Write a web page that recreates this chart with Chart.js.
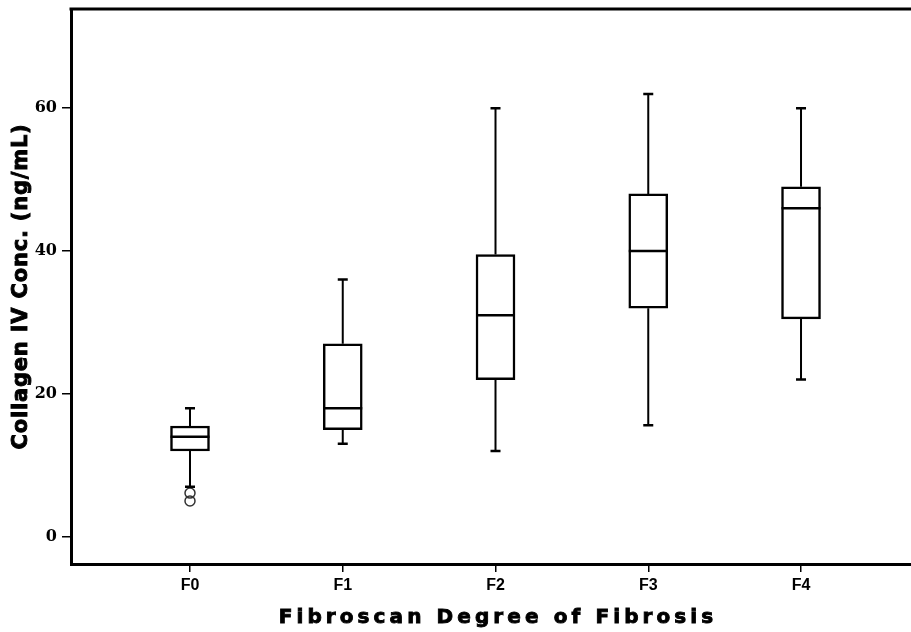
<!DOCTYPE html>
<html>
<head>
<meta charset="utf-8">
<script src="https://cdn.jsdelivr.net/npm/chart.js@4.4.1/dist/chart.umd.min.js"></script>
<style>
html,body{margin:0;padding:0;background:#fff;overflow:hidden;}
#wrap{width:911px;height:632px;position:relative;}
</style>
</head>
<body>
<div id="wrap"><canvas id="c" width="911" height="632"></canvas></div>
<script>
const categories = ['F0','F1','F2','F3','F4'];
const whiskerLow = [7, 13, 12, 15.6, 22];
const q1 = [12, 15, 22, 32, 30.5];
const median = [14, 18, 31, 40, 46];
const q3 = [15.5, 27, 39.5, 48, 49];
const whiskerHigh = [18, 36, 60, 62, 60];
const outlierCat = [0, 0];
const outlierVal = [6.1, 5.0];
const yTicks = [0, 20, 40, 60];
const xTitle = 'Fibroscan Degree of Fibrosis';
const yTitle = 'Collagen IV Conc. (ng/mL)';
const yMin = -3.83, yMax = 73.9;
const xMin = -0.779, xMax = 4.72;

const boxPlugin = {
  id: 'boxPlugin',
  afterDatasetsDraw(chart) {
    const ctx = chart.ctx;
    const xs = chart.scales.x, ys = chart.scales.y;
    ctx.save();
    ctx.strokeStyle = '#000';
    categories.forEach((c, i) => {
      const px = xs.getPixelForValue(i);
      const half = 19.5, cap = 5;
      ctx.lineWidth = 2;
      ctx.beginPath();
      ctx.moveTo(px, ys.getPixelForValue(q3[i]));
      ctx.lineTo(px, ys.getPixelForValue(whiskerHigh[i]));
      ctx.moveTo(px, ys.getPixelForValue(q1[i]));
      ctx.lineTo(px, ys.getPixelForValue(whiskerLow[i]));
      ctx.stroke();
      ctx.lineWidth = 2.5;
      ctx.beginPath();
      ctx.moveTo(px - cap, ys.getPixelForValue(whiskerHigh[i]));
      ctx.lineTo(px + cap, ys.getPixelForValue(whiskerHigh[i]));
      ctx.moveTo(px - cap, ys.getPixelForValue(whiskerLow[i]));
      ctx.lineTo(px + cap, ys.getPixelForValue(whiskerLow[i]));
      ctx.stroke();
      ctx.beginPath();
      ctx.moveTo(px - half, ys.getPixelForValue(median[i]));
      ctx.lineTo(px + half, ys.getPixelForValue(median[i]));
      ctx.stroke();
    });
    const a = chart.chartArea;
    ctx.lineWidth = 3;
    ctx.beginPath();
    ctx.moveTo(a.left - 1.5, a.top);
    ctx.lineTo(a.right, a.top);
    ctx.stroke();
    // axis titles
    ctx.fillStyle = '#000';
    ctx.textAlign = 'center';
    ctx.textBaseline = 'middle';
    ctx.lineWidth = 0.9;
    ctx.font = 'bold 20px "DejaVu Sans"';
    ctx.letterSpacing = '4.1px';
    ctx.fillText(xTitle, 498, 618);
    ctx.strokeText(xTitle, 498, 618);
    ctx.save();
    ctx.translate(22, (a.top + a.bottom) / 2);
    ctx.rotate(-Math.PI / 2);
    ctx.font = 'bold 21px "DejaVu Sans"';
    ctx.letterSpacing = '0.8px';
    ctx.fillText(yTitle, 0, 0);
    ctx.strokeText(yTitle, 0, 0);
    ctx.restore();
    ctx.restore();
  }
};

new Chart(document.getElementById('c'), {
  type: 'bar',
  data: {
    datasets: [
      {
        type: 'bar',
        data: categories.map((c, i) => ({x: i, y: [q1[i], q3[i]]})),
        backgroundColor: '#fff',
        borderColor: '#000',
        borderWidth: 2.5,
        borderSkipped: false,
        barThickness: 39
      },
      {
        type: 'scatter',
        data: outlierCat.map((c, i) => ({x: c, y: outlierVal[i]})),
        pointStyle: 'circle',
        pointRadius: 5,
        pointBackgroundColor: 'rgba(255,255,255,0)',
        pointBorderColor: '#333',
        pointBorderWidth: 1.5
      }
    ]
  },
  options: {
    responsive: false,
    animation: false,
    layout: {autoPadding: false, padding: {top: 9, left: 0, right: 0, bottom: 0}},
    plugins: {legend: {display: false}, tooltip: {enabled: false}},
    scales: {
      x: {
        type: 'linear',
        offset: false,
        min: xMin, max: xMax,
        afterBuildTicks: s => { s.ticks = categories.map((c, i) => ({value: i})); },
        afterFit: s => { s.height = 68; s.paddingLeft = 0; s.paddingRight = 0; },
        ticks: {
          callback: (v) => categories[v],
          color: '#000',
          font: {family: 'Liberation Sans', weight: 'bold', size: 16},
          padding: 4,
          maxRotation: 0,
          autoSkip: false
        },
        grid: {display: true, offset: false, drawOnChartArea: false, drawTicks: true, tickLength: 8, color: '#000', lineWidth: 1.5},
        border: {display: true, color: '#000', width: 3}
      },
      y: {
        type: 'linear',
        min: yMin, max: yMax,
        afterBuildTicks: s => { s.ticks = yTicks.map(v => ({value: v})); },
        afterFit: s => { s.width = 71; s.paddingTop = 0; s.paddingBottom = 0; },
        ticks: {
          color: '#000',
          font: {family: 'DejaVu Serif', weight: 'bold', size: 16},
          padding: 5
        },
        grid: {display: true, drawOnChartArea: false, drawTicks: true, tickLength: 9, color: '#000', lineWidth: 1.5},
        border: {display: true, color: '#000', width: 3}
      }
    }
  },
  plugins: [boxPlugin]
});
</script>
</body>
</html>
